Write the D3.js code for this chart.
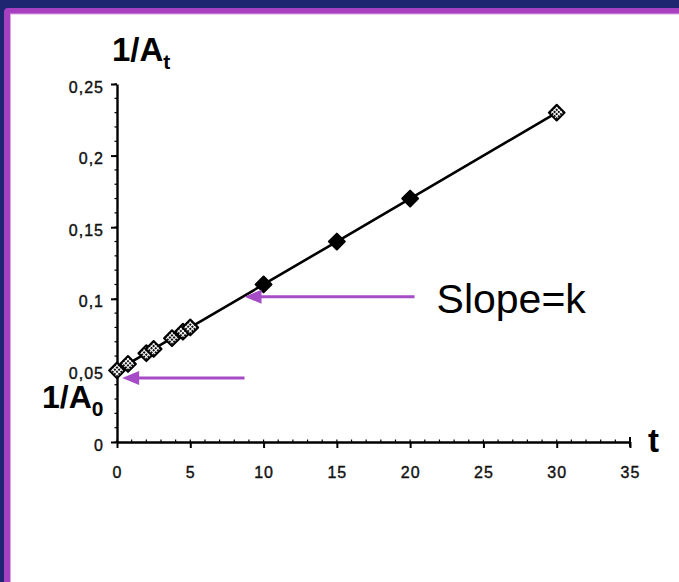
<!DOCTYPE html>
<html>
<head>
<meta charset="utf-8">
<script src="https://cdn.jsdelivr.net/npm/d3@7/dist/d3.min.js"></script>
<style>
  html, body { margin: 0; padding: 0; background: #1e2672; }
  svg { display: block; }
</style>
</head>
<body>
<svg id="chart" width="679" height="582"></svg>
<script>
// Second-order kinetics: 1/[A] plotted against time
const times   = [0, 0.75, 2, 2.5, 3.75, 4.5, 5, 10, 15, 20, 30];
const invConc = [0.05, 0.0545, 0.062, 0.065, 0.0725, 0.077, 0.08, 0.11, 0.14, 0.17, 0.23];
const xTicks = [0, 5, 10, 15, 20, 25, 30, 35];
const yTicks = [0, 0.05, 0.1, 0.15, 0.2, 0.25];
const yTickLabels = ["0", "0,05", "0,1", "0,15", "0,2", "0,25"];

const W = 679, H = 582;
const svg = d3.select("#chart");

// slide frame
svg.append("rect").attr("width", W).attr("height", H).attr("fill", "#1e2672");
svg.append("rect").attr("x", 4).attr("y", 8).attr("width", W).attr("height", H)
  .attr("rx", 4).attr("fill", "#a63fc0");
svg.append("rect").attr("x", 10).attr("y", 13.5).attr("width", W).attr("height", H)
  .attr("fill", "#dba6e6");
svg.append("rect").attr("x", 11).attr("y", 14.5).attr("width", W).attr("height", H)
  .attr("fill", "#ffffff");

const x = d3.scaleLinear().domain([0, 35]).range([117, 630]);
const y = d3.scaleLinear().domain([0, 0.25]).range([442, 84]);

// hatched marker fill
const defs = svg.append("defs");
const pat = defs.append("pattern").attr("id", "hatch")
  .attr("width", 3).attr("height", 3).attr("patternUnits", "userSpaceOnUse");
pat.append("rect").attr("width", 3).attr("height", 3).attr("fill", "#ffffff");
pat.append("rect").attr("width", 2).attr("height", 2).attr("fill", "#111");

const tickFont = "'Liberation Sans', Arial, sans-serif";
function styleTickText(sel) {
  sel.attr("font-family", tickFont).attr("font-size", 16)
    .attr("letter-spacing", 1).attr("fill", "#111")
    .attr("stroke", "#111").attr("stroke-width", 0.4);
}

// y axis
const yAxis = d3.axisLeft(y).tickValues(yTicks).tickSize(6)
  .tickFormat((d, i) => yTickLabels[i]).tickSizeOuter(0);
const gy = svg.append("g").attr("transform", `translate(${x(0)},0)`).call(yAxis);
gy.select(".domain").attr("stroke", "#000").attr("stroke-width", 2.4);
gy.selectAll(".tick line").attr("stroke", "#000").attr("stroke-width", 2);
gy.selectAll(".tick text").call(styleTickText).attr("x", -13).attr("dy", "0.5em");

// y minor ticks
const yMinor = d3.range(0, 0.2501, 0.01);
svg.append("g").selectAll("line").data(yMinor).join("line")
  .attr("x1", x(0) - 2.5).attr("x2", x(0))
  .attr("y1", d => y(d)).attr("y2", d => y(d))
  .attr("stroke", "#000").attr("stroke-width", 1.2);

// x axis
const xAxis = d3.axisBottom(x).tickValues(xTicks).tickSize(6).tickSizeOuter(0);
const gx = svg.append("g").attr("transform", `translate(0,${y(0)})`).call(xAxis);
gx.select(".domain").attr("stroke", "#000").attr("stroke-width", 2.4);
gx.selectAll(".tick line").attr("stroke", "#000").attr("stroke-width", 2);
gx.selectAll(".tick text").call(styleTickText).attr("y", 25);

// x minor ticks
const xMinor = d3.range(0, 35.01, 1);
svg.append("g").selectAll("line").data(xMinor).join("line")
  .attr("x1", d => x(d)).attr("x2", d => x(d))
  .attr("y1", y(0) - 2.5).attr("y2", y(0) + 1)
  .attr("stroke", "#000").attr("stroke-width", 1.2);
// end cap at 35
svg.append("line").attr("x1", x(35)).attr("x2", x(35))
  .attr("y1", y(0) - 5).attr("y2", y(0) + 5)
  .attr("stroke", "#000").attr("stroke-width", 2);

// fitted line through the data
const pts = times.map((t, i) => ({ t, v: invConc[i] }));
svg.append("path").datum(pts)
  .attr("d", d3.line().x(d => x(d.t)).y(d => y(d.v)))
  .attr("fill", "none").attr("stroke", "#000").attr("stroke-width", 2.6);

// markers
const sym = d3.symbol().type(d3.symbolSquare).size(125);
svg.append("g").selectAll("path").data(pts).join("path")
  .attr("d", sym)
  .attr("transform", d => `translate(${x(d.t)},${y(d.v)}) rotate(45)`)
  .attr("fill", d => (d.t >= 10 && d.t <= 20) ? "#000" : "url(#hatch)")
  .attr("stroke", "#000").attr("stroke-width", 2)
  .attr("stroke-linejoin", "round");

// axis titles
const titleFont = "'Liberation Sans', Arial, sans-serif";
const tTop = svg.append("text").attr("x", 112).attr("y", 61)
  .attr("font-family", titleFont).attr("font-weight", "bold").attr("font-size", 33).attr("fill", "#000");
tTop.append("tspan").text("1/A");
tTop.append("tspan").attr("font-size", 21).attr("dy", 8).text("t");

const tLeft = svg.append("text").attr("x", 42).attr("y", 408)
  .attr("font-family", titleFont).attr("font-weight", "bold").attr("font-size", 32).attr("fill", "#000");
tLeft.append("tspan").text("1/A");
tLeft.append("tspan").attr("font-size", 21).attr("dy", 8).text("0");

svg.append("text").attr("x", x(35) + 18).attr("y", y(0) + 10)
  .attr("font-family", titleFont).attr("font-weight", "bold").attr("font-size", 33)
  .attr("fill", "#000").text("t");

// annotation arrows (data units)
const arrowColor = "#a64cc6";
const arrows = [
  { from: 20.3, to: 8.7, v: 0.1015 },
  { from: 8.7, to: 0.35, v: 0.0447 }
];
arrows.forEach(a => {
  const x1 = x(a.from), x2 = x(a.to), yy = y(a.v);
  svg.append("line").attr("x1", x1).attr("x2", x2 + 12).attr("y1", yy).attr("y2", yy)
    .attr("stroke", arrowColor).attr("stroke-width", 3);
  svg.append("path")
    .attr("d", `M${x2},${yy} L${x2 + 17},${yy - 7} L${x2 + 17},${yy + 7} Z`)
    .attr("fill", arrowColor);
});

svg.append("text").attr("x", x(arrows[0].from) + 22).attr("y", y(arrows[0].v) + 16)
  .attr("font-family", titleFont).attr("font-size", 41).attr("fill", "#000")
  .text("Slope=k");
</script>
</body>
</html>
